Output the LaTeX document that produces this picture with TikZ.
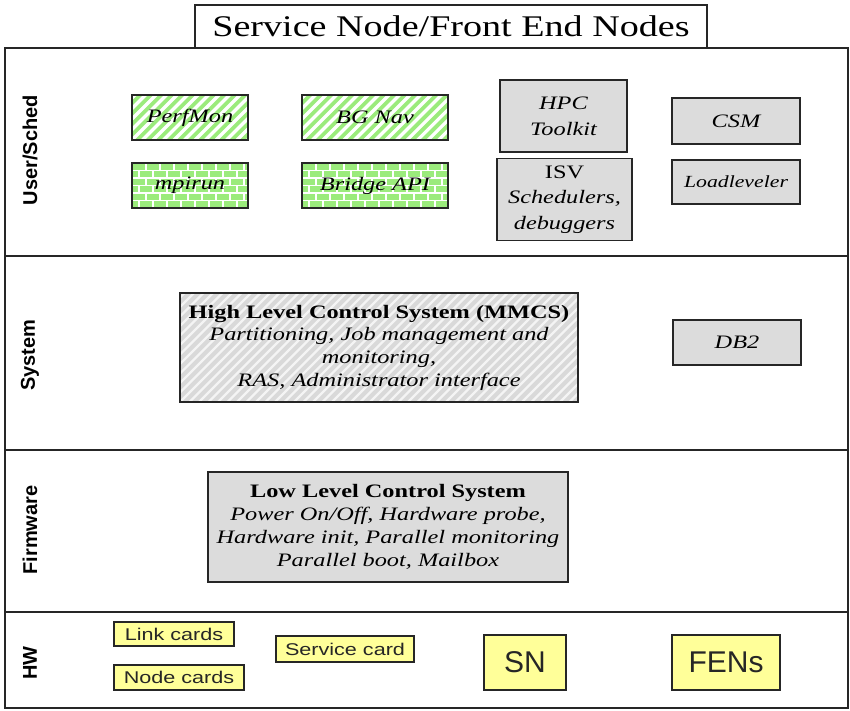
\documentclass[tikz,border=0pt]{standalone}
\usepackage{fontspec}
\setmainfont{Liberation Serif}
\newfontfamily\bx[FakeStretch=1.28]{Liberation Serif}
\newfontfamily\ttlf[FakeStretch=1.27]{Liberation Serif}
\newfontfamily\cardf[FakeStretch=1.27]{Liberation Sans}
\newfontfamily\sidef{Liberation Sans}
\definecolor{bgreen}{HTML}{9BEB7C}
\definecolor{bgray}{HTML}{DCDCDC}
\definecolor{hgray}{HTML}{D9D9D9}
\definecolor{byellow}{HTML}{FFFF99}
\tikzset{
  box/.style={draw=black!85, line width=1.8pt, inner sep=2pt, align=center,
    font=\bx\itshape\fontsize{19}{23}\selectfont},
  graybox/.style={box, fill=bgray},
  stripebox/.style={box, fill=bgreen, path picture={
      \foreach \i in {-8,...,25}
        \draw[white, line width=3.2pt] ([xshift=\i*10.5pt]path picture bounding box.south west) -- ++(70pt,70pt);}},
  brickbox/.style={box, fill=bgreen, path picture={
      \foreach \r in {0,...,7}{
        \draw[white, line width=1.6pt] ([yshift=-\r*7.5pt]path picture bounding box.north west) -- ++(200pt,0pt);
        \pgfmathsetmacro\off{mod(\r,2)*7}
        \foreach \c in {0,...,13}{
          \pgfmathsetmacro\xx{\c*14+\off}
          \draw[white, line width=1.6pt] ([xshift=\xx pt, yshift=-\r*7.5pt]path picture bounding box.north west) -- ++(0pt,-7.5pt);
        }}}},
  hatchbox/.style={box, fill=hgray, path picture={
      \foreach \i in {-14,...,50}
        \draw[white!70!hgray, line width=2.2pt] ([xshift=\i*9.5pt]path picture bounding box.south west) -- ++(120pt,120pt);}},
  card/.style={draw=black!85, line width=1.8pt, fill=byellow, inner sep=1pt,
    font=\cardf\fontsize{17}{20}\selectfont, text=black!85},
  bigcard/.style={card, font=\sidef\fontsize{30}{32}\selectfont},
  side/.style={rotate=90, font=\sidef\bfseries\fontsize{20}{22}\selectfont},
  frame/.style={draw=black!85, line width=1.5pt}
}
\begin{document}
\begin{tikzpicture}[x=1pt, y=-1pt]
\useasboundingbox (0,0) rectangle (850,710);
\fill[white] (0,0) rectangle (850,710);

% outer frame and layer separators
\draw[frame] (5,48) rectangle (848,708);
\draw[frame] (5,256) -- (848,256);
\draw[frame] (5,450) -- (848,450);
\draw[frame] (5,612) -- (848,612);

% title
\node[draw=black!85, line width=1.5pt, fill=white, minimum width=512pt, minimum height=43pt,
  font=\ttlf\fontsize{30}{32}\selectfont] (title) at (451,26.5) {Service Node/Front End Nodes};

% side labels
\node[side] (lus) at (30,150) {User/Sched};
\node[side] (lsys) at (30,355) {System};
\node[side] (lfw) at (30,530) {Firmware};
\node[side] (lhw) at (30,663) {HW};

% User/Sched layer
\node[stripebox, minimum width=116pt, minimum height=45pt] (perf) at (190,117.5) {PerfMon};
\node[stripebox, minimum width=146pt, minimum height=45pt] (bgnav) at (375,117.5) {BG Nav};
\node[brickbox, minimum width=116pt, minimum height=45pt] (mpirun) at (190,185.5) {mpirun};
\node[brickbox, minimum width=146pt, minimum height=45pt] (bridge) at (375,185.5) {Bridge API};
\node[graybox, minimum width=127pt, minimum height=72pt, font=\bx\itshape\fontsize{19}{26}\selectfont] (hpc) at (563.5,116) {HPC\\Toolkit};
\node[graybox, minimum width=135pt, minimum height=82pt, font=\bx\itshape\fontsize{19}{25.5}\selectfont] (isv) at (564.5,199.5) {\upshape ISV\\Schedulers,\\debuggers};
\node[graybox, minimum width=128pt, minimum height=46pt] (csm) at (736,121) {CSM};
\node[graybox, minimum width=128pt, minimum height=44pt, font=\bx\itshape\fontsize{17}{20}\selectfont] (loadl) at (736,182) {Loadleveler};

% System layer
\node[hatchbox, minimum width=398pt, minimum height=109pt, font=\bx\itshape\fontsize{19}{22.7}\selectfont] (hlcs) at (379,347.5)
  {\upshape\bfseries High Level Control System (MMCS)\\Partitioning, Job management and\\monitoring,\\RAS, Administrator interface};
\node[graybox, minimum width=128pt, minimum height=45pt] (db2) at (737,342.5) {DB2};

% Firmware layer
\node[graybox, minimum width=360pt, minimum height=110pt, font=\bx\itshape\fontsize{19}{23}\selectfont] (llcs) at (388,527)
  {\upshape\bfseries Low Level Control System\\Power On/Off, Hardware probe,\\Hardware init, Parallel monitoring\\Parallel boot, Mailbox};

% HW layer
\node[card, minimum width=120pt, minimum height=24pt] (link) at (174,634) {Link cards};
\node[card, minimum width=130pt, minimum height=25pt] (nodec) at (179,677.5) {Node cards};
\node[card, minimum width=138pt, minimum height=26pt] (svc) at (345,649) {Service card};
\node[bigcard, minimum width=82pt, minimum height=55pt] (sn) at (525,662.5) {SN};
\node[bigcard, minimum width=108pt, minimum height=55pt] (fens) at (726,662.5) {FENs};
\end{tikzpicture}
\end{document}
